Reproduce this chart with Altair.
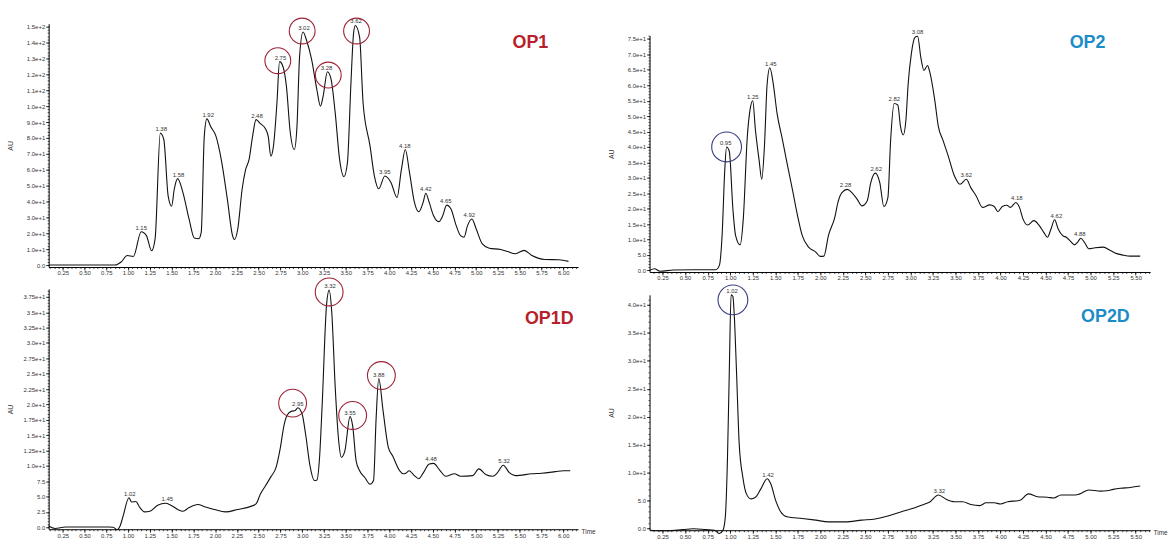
import altair as alt
import pandas as pd
import numpy as np

FONT = "Liberation Sans"

# ---------------- data (time in min, AU) ----------------
op1_curve = [(0.09,0),(0.30,0),(0.50,0),(0.70,0),(0.85,0),(0.92,1.9),(0.99,6),(1.06,5.4),(1.15,21),(1.21,18.5),
             (1.27,9),(1.31,16.5),(1.37,83),(1.41,79),(1.46,43.5),(1.50,37),(1.53,47.7),(1.57,54.4),(1.63,45.6),(1.70,29),
             (1.76,17),(1.81,16.5),(1.84,20.6),(1.875,81),(1.905,92),(1.95,87),(2.01,81),(2.07,66.5),(2.14,41.5),(2.20,18.5),
             (2.22,16),(2.26,22.7),(2.31,47.7),(2.35,60),(2.39,66.5),(2.43,81),(2.47,91.5),(2.52,89),(2.58,85.6),(2.61,81),
             (2.64,68.5),(2.67,74.8),(2.71,102),(2.74,128),(2.78,124.8),(2.82,112),(2.86,85),(2.91,72.7),(2.94,87),(2.97,131),
             (3.01,146.7),(3.05,141.5),(3.11,129),(3.17,110),(3.21,100),(3.24,106),(3.29,121.7),(3.33,117.5),(3.38,95.6),(3.43,66.5),
             (3.48,55.6),(3.52,64.4),(3.56,114),(3.59,145.6),(3.61,150.8),(3.66,143.5),(3.70,102),(3.78,74.8),(3.83,56),(3.88,48),
             (3.95,56),(4.02,52),(4.09,42.5),(4.14,60),(4.185,72.7),(4.234,58),(4.29,39.4),(4.34,33.5),(4.39,39.4),(4.42,45.2),
             (4.46,39.4),(4.51,31),(4.57,27.3),(4.615,31),(4.66,37.7),(4.71,35.2),(4.77,24.8),(4.82,18.5),(4.86,17.5),(4.90,24.8),
             (4.95,29),(5.0,22.7),(5.07,13.3),(5.15,10.6),(5.28,9.8),(5.36,8.5),(5.45,7.1),(5.55,9.2),(5.64,6),(5.79,3.5),
             (5.95,3.3),(6.06,2.3)]
op1_peaks = [(1.15,21),(1.38,83),(1.58,54.4),(1.92,92),(2.48,91.5),(2.75,128),(3.02,146.7),(3.28,121.7),(3.62,150.8),
             (3.95,56),(4.18,72.7),(4.42,45.2),(4.65,37.7),(4.92,29)]
op1_circles = [(2.72,128.6),(3.00,147.3),(3.30,119.6),(3.625,147.3)]

op1d_curve = [(0.087,0.2),(0.16,-0.2),(0.28,0.05),(0.77,0.05),(0.83,0),(0.87,-0.4),(0.91,0.3),(0.94,1.7),(1.01,4.8),(1.04,4.1),
              (1.09,4.2),(1.13,3.3),(1.19,2.5),(1.25,2.6),(1.34,3.6),(1.43,3.9),(1.49,3.6),(1.57,2.9),(1.63,2.6),(1.70,3.2),
              (1.80,3.7),(1.89,3.3),(1.99,2.9),(2.12,2.5),(2.26,2.9),(2.41,3.4),(2.47,3.8),(2.52,5.4),(2.58,6.8),(2.64,8.2),
              (2.70,9.75),(2.75,13),(2.79,16.5),(2.83,18.3),(2.88,18.9),(2.92,19),(2.95,19.45),(3.0,18.4),(3.04,15.1),(3.09,10),
              (3.14,7.6),(3.17,7.7),(3.20,11.4),(3.23,20),(3.28,36.2),(3.31,38.6),(3.34,35),(3.38,22.7),(3.42,14),(3.45,11.4),
              (3.49,12.4),(3.55,18),(3.58,16.5),(3.62,10.8),(3.66,9.2),(3.72,8.1),(3.78,7),(3.82,7.6),(3.85,17.8),(3.88,24.2),
              (3.93,18.9),(3.99,13),(4.04,11.6),(4.12,9.2),(4.16,8.7),(4.19,8.8),(4.23,9.2),(4.29,8.4),(4.34,7.9),(4.39,8.8),
              (4.46,10.3),(4.51,10.4),(4.58,9.3),(4.65,8.3),(4.75,8.7),(4.82,8.3),(4.96,8.4),(5.03,9.5),(5.11,8.6),(5.19,8.3),
              (5.24,8.8),(5.31,10.1),(5.38,8.9),(5.45,8.4),(5.64,8.7),(5.75,8.8),(5.91,9.05),(6.0,9.2),(6.08,9.2)]
op1d_peaks = [(1.02,4.8),(1.45,3.9),(2.95,19.45),(3.32,38.6),(3.55,18),(3.88,24.2),(4.48,10.4),(5.32,10.1)]
op1d_circles = [(2.89,20.2),(3.31,38.3),(3.58,18.2),(3.91,24.7)]

op2_curve = [(0.11,0),(0.16,0.5),(0.22,-0.3),(0.37,0.1),(0.60,0.2),(0.84,0.2),(0.88,1.6),(0.91,11.3),(0.94,32.7),(0.96,40),
             (0.99,38.6),(1.03,19.8),(1.06,11.25),(1.11,8.25),(1.145,16.6),(1.19,43.4),(1.22,52),(1.25,55),(1.28,45.5),(1.32,35.9),
             (1.35,29.5),(1.38,40.2),(1.41,60.5),(1.44,65.7),(1.475,61),(1.52,50.9),(1.58,42.3),(1.63,34.8),(1.69,26.25),(1.74,18.75),
             (1.80,11.25),(1.87,7.5),(1.95,5.9),(2.0,4.5),(2.04,4.6),(2.09,11.25),(2.16,17.1),(2.20,22.5),(2.24,25.2),(2.30,26.25),
             (2.35,25.2),(2.41,23),(2.46,20.9),(2.52,22.5),(2.56,28.4),(2.61,31.5),(2.66,28.4),(2.705,20.7),(2.75,23.6),(2.78,42),
             (2.82,54.1),(2.86,53.6),(2.89,46.6),(2.92,43.9),(2.95,48.75),(2.975,60.5),(3.01,70.2),(3.05,75.5),(3.08,75.9),(3.115,69.1),
             (3.15,64.8),(3.19,66.4),(3.21,64.8),(3.27,55.2),(3.31,46.6),(3.36,42.3),(3.42,37),(3.49,30.5),(3.55,27.9),(3.62,29.5),
             (3.67,26.8),(3.73,24.1),(3.80,20.4),(3.88,21.2),(3.93,20.7),(3.97,19),(4.02,20.7),(4.07,21.1),(4.11,20.4),(4.17,22),
             (4.21,20.4),(4.25,16.6),(4.30,14.7),(4.37,16.1),(4.43,14.5),(4.48,12.3),(4.52,10.7),(4.56,13.4),(4.60,16.4),(4.64,13.4),
             (4.69,11.25),(4.73,10.7),(4.78,9.3),(4.82,8.25),(4.86,9.3),(4.89,10.4),(4.93,9.1),(4.98,7.0),(5.05,7.3),(5.14,7.5),
             (5.22,6.4),(5.29,5.4),(5.35,5.0),(5.44,4.6),(5.55,4.6)]
op2_peaks = [(0.95,40),(1.25,55),(1.45,65.7),(2.28,26.25),(2.62,31.5),(2.82,54.1),(3.08,75.9),(3.62,29.5),(4.18,22),
             (4.62,16.4),(4.88,10.4)]
op2_circles = [(0.96,40)]

op2d_curve = [(0.11,-0.3),(0.255,-0.4),(0.48,-0.2),(0.59,-0.05),(0.73,-0.2),(0.825,-0.3),(0.88,-0.9),(0.92,-0.3),(0.946,2.1),
              (0.97,12.7),(0.99,28.1),(1.01,41.8),(1.03,41.5),(1.045,38.2),(1.07,28.1),(1.10,15.1),(1.14,9.2),(1.18,6.2),(1.23,5.3),
              (1.28,5.6),(1.34,7.1),(1.41,8.9),(1.45,8.0),(1.505,5.0),(1.56,3.0),(1.63,2.1),(1.80,1.8),(1.95,1.5),(2.09,1.2),
              (2.28,1.2),(2.46,1.5),(2.61,1.7),(2.75,2.25),(2.90,3.0),(3.05,3.7),(3.16,4.4),(3.21,4.7),(3.31,6.0),(3.40,5.2),
              (3.49,4.8),(3.58,4.8),(3.67,4.3),(3.77,4.1),(3.84,4.6),(3.93,4.6),(4.00,4.4),(4.08,4.8),(4.21,5.0),(4.31,6.2),
              (4.41,5.7),(4.52,5.6),(4.59,5.45),(4.67,6.0),(4.83,6.0),(4.88,6.2),(4.98,6.9),(5.11,6.7),(5.18,6.75),(5.25,7.0),
              (5.33,7.2),(5.44,7.35),(5.55,7.6)]
op2d_peaks = [(1.02,41.8),(1.42,8.9),(3.32,6.0)]
op2d_circles = [(1.03,40.9)]

panel_names = ["OP1", "OP1D", "OP2", "OP2D"]

# ---------------- helpers ----------------
def sci_label():
    e = "floor(log(datum.value)/LN10 + 1e-9)"
    m = f"(datum.value/pow(10,{e}))"
    return (f"datum.value == 0 ? '0.0' : datum.value < 10 ? format(datum.value, '.1f') : "
            f"(abs({m}*10 - round({m}*10)) > 0.01 ? format({m}, '.2f') : format({m}, '.1f')) + 'e+' + {e}")


def steps(a, b, s):
    return [float(v) for v in np.round(np.arange(a, b + s / 2, s), 3)]


def panel(curve, peaks, circles, name, xdom, ydom, w, h, xmajor, xminor, ymajor, yminor,
          name_color, circ_color, circ_size, name_pos, show_time):
    line_df = pd.DataFrame(curve, columns=["t", "au"])
    xs = alt.Scale(domain=xdom, nice=False, zero=False)
    ys = alt.Scale(domain=ydom, nice=False, zero=False)

    minor = alt.Chart(line_df).mark_line(strokeOpacity=0).encode(
        x=alt.X("t:Q", scale=xs, axis=alt.Axis(values=xminor, labels=False, domain=False, tickSize=1.5,
                                               orient="bottom", title=None, grid=False, tickWidth=0.7)),
        y=alt.Y("au:Q", scale=ys, axis=alt.Axis(values=yminor, labels=False, domain=False, tickSize=1.5,
                                                orient="left", title=None, grid=False, tickWidth=0.7)),
    )
    xax = dict(values=xmajor, format=".2f", tickSize=3, labelPadding=0, orient="bottom", labelFlush=False,
               labelOverlap=False, grid=False, labelFontSize=6)
    if show_time:
        xax.update(title="Time", titleX=w + 3, titleY=2, titleAlign="left", titleBaseline="middle",
                   titleFontSize=6.5, titleFontWeight="normal")
    else:
        xax.update(title=None)
    main = alt.Chart(line_df).mark_line(color="#111111", strokeWidth=1.1, interpolate="monotone").encode(
        x=alt.X("t:Q", scale=xs, axis=alt.Axis(**xax)),
        y=alt.Y("au:Q", scale=ys, axis=alt.Axis(values=ymajor, labelExpr=sci_label(), tickSize=3, labelPadding=1,
                                                orient="left", title="AU", titlePadding=1, minExtent=34,
                                                maxExtent=34, titleFontSize=7, titleFontWeight="normal",
                                                labelFlush=False, labelOverlap=False, grid=False,
                                                labelFontSize=6)),
    )
    pk = alt.Chart(pd.DataFrame(peaks, columns=["t", "au"])).mark_text(
        fontSize=6, color="#333333", baseline="bottom", dy=-1, font=FONT
    ).encode(
        x=alt.X("t:Q", scale=xs, axis=None),
        y=alt.Y("au:Q", scale=ys, axis=None),
        text=alt.Text("t:Q", format=".2f"),
    )
    ci = alt.Chart(pd.DataFrame(circles, columns=["t", "au"])).mark_point(
        shape="circle", filled=False, size=circ_size, color=circ_color, strokeWidth=1.1, opacity=1
    ).encode(
        x=alt.X("t:Q", scale=xs, axis=None),
        y=alt.Y("au:Q", scale=ys, axis=None),
    )
    nm = alt.Chart(pd.DataFrame({"name": [name]})).mark_text(
        fontSize=18, fontWeight="bold", color=name_color, align="center", baseline="alphabetic", font=FONT
    ).encode(x=alt.value(name_pos[0]), y=alt.value(name_pos[1]), text="name:N")

    return alt.layer(minor, main, pk, ci, nm).resolve_axis(x="independent", y="independent").properties(
        width=w, height=h)


RED, RED_C = "#B81F2D", "#9B2335"
BLUE, BLUE_C = "#1B8CC6", "#363C7E"

xl_dom = [0.087, 6.17]
xr_dom = [0.105, 5.66]

p1 = panel(op1_curve, op1_peaks, op1_circles, panel_names[0], xl_dom, [-1.25, 151.9], 533, 245,
           steps(0.25, 6.0, 0.25), steps(0.1, 6.15, 0.05), steps(0, 150, 10), steps(0, 150, 2),
           RED, RED_C, 676, (485, 24), False)
p1d = panel(op1d_curve, op1d_peaks, op1d_circles, panel_names[1], xl_dom, [-0.32, 38.8], 533, 242,
            steps(0.25, 6.0, 0.25), steps(0.1, 6.15, 0.05), steps(0, 37.5, 2.5), steps(0, 38.5, 0.5),
            RED, RED_C, 784, (504, 35), True)
p2 = panel(op2_curve, op2_peaks, op2_circles, panel_names[2], xr_dom, [-0.55, 76.1], 504, 238,
           steps(0.25, 5.5, 0.25), steps(0.15, 5.65, 0.05), steps(0, 75, 5), steps(0, 76, 1),
           BLUE, BLUE_C, 900, (441, 12), False)
p2d = panel(op2d_curve, op2d_peaks, op2d_circles, panel_names[3], xr_dom, [-0.3, 41.8], 504, 237,
            steps(0.25, 5.5, 0.25), steps(0.15, 5.65, 0.05), steps(0, 40, 5), steps(0, 41, 1),
            BLUE, BLUE_C, 900, (459, 27), True)

# small invisible spacer that lowers the right-hand column a little
spacer = alt.Chart(pd.DataFrame({"s": [0]})).mark_point(opacity=0).encode(
    x=alt.value(0), y=alt.value(0)).properties(width=1, height=1)

left = alt.vconcat(p1, p1d, spacing=22, bounds="flush")
right_inner = alt.vconcat(p2, p2d, spacing=23, bounds="flush")
right = alt.vconcat(spacer, right_inner, spacing=11, bounds="flush")

chart = alt.hconcat(left, right, spacing=12).properties(
    padding={"left": 7, "top": 14, "right": 0, "bottom": 0}, background="white"
).configure_view(stroke=None).configure_axis(
    domainColor="#000000", tickColor="#000000", labelColor="#333333", labelFont=FONT,
    titleFont=FONT, titleColor="#333333", domainWidth=1, tickWidth=0.8
)

chart.save("out.html", embed_options={"renderer": "svg", "actions": False})
